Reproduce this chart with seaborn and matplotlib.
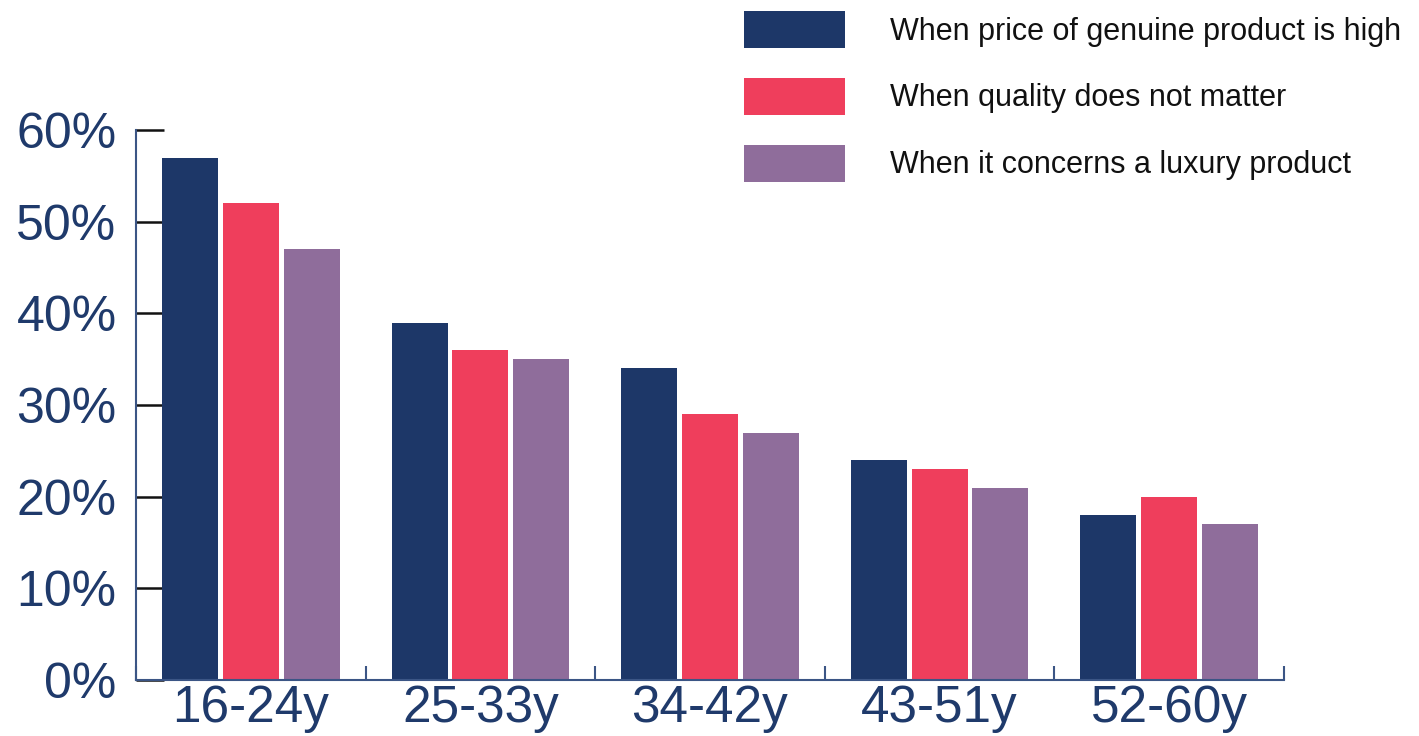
import matplotlib
matplotlib.use("Agg")
import matplotlib.pyplot as plt
import seaborn as sns
import pandas as pd
from matplotlib.patches import Patch
from matplotlib.ticker import FixedLocator

categories = ["16-24y", "25-33y", "34-42y", "43-51y", "52-60y"]
series_names = [
    "When price of genuine product is high",
    "When quality does not matter",
    "When it concerns a luxury product",
]
price_high = [57, 39, 34, 24, 18]
quality_irrelevant = [52, 36, 29, 23, 20]
luxury_product = [47, 35, 27, 21, 17]
y_ticks = [0, 10, 20, 30, 40, 50, 60]
y_tick_labels = ["0%", "10%", "20%", "30%", "40%", "50%", "60%"]

colors = ["#1D3768", "#EF3E5C", "#8F6D9B"]
navy = "#1F3A6B"

rows = []
for name, vals in zip(series_names, [price_high, quality_irrelevant, luxury_product]):
    for c, v in zip(categories, vals):
        rows.append({"Age": c, "Series": name, "Value": v})
df = pd.DataFrame(rows)

sns.set_style("white")
plt.rcParams["font.family"] = ["Liberation Sans", "DejaVu Sans"]

fig = plt.figure(figsize=(14.19, 7.36), dpi=100)
ax = fig.add_axes([136 / 1419, 1 - 680 / 736, (1284 - 136) / 1419, (680 - 130) / 736])

sns.barplot(data=df, x="Age", y="Value", hue="Series", order=categories,
            hue_order=series_names, palette=colors, width=0.795, gap=0.08,
            saturation=1, ax=ax, legend=False, linewidth=0, edgecolor="none")

ax.set_xlim(-0.5, len(categories) - 0.5)
ax.set_ylim(0, 60)
ax.set_xlabel("")
ax.set_ylabel("")

for s in ["top", "right"]:
    ax.spines[s].set_visible(False)
for s in ["left", "bottom"]:
    ax.spines[s].set_color("#3B5585")
    ax.spines[s].set_linewidth(1.5)

ax.set_yticks(y_ticks)
ax.set_yticklabels(y_tick_labels)
ax.tick_params(axis="y", direction="in", length=20, width=1.8, color="#111111",
               labelsize=36, labelcolor=navy, pad=14, left=True)

ax.set_xticks(range(len(categories)))
ax.set_xticklabels(categories)
ax.tick_params(axis="x", which="major", length=0, labelsize=37, labelcolor=navy, pad=3)
ax.xaxis.set_minor_locator(FixedLocator([i - 0.5 for i in range(len(categories) + 1)]))
ax.tick_params(axis="x", which="minor", direction="in", length=10, width=1.5,
               color="#3B5585", bottom=True)

handles = [Patch(facecolor=c, edgecolor="none") for c in colors]
fig.legend(handles, series_names, loc="upper left",
           bbox_to_anchor=(744 / 1419, 1 - 11 / 736), frameon=False,
           fontsize=22, handlelength=3.3, handleheight=1.48,
           handletextpad=1.47, labelspacing=0.98, borderpad=0, borderaxespad=0,
           labelcolor="#111111")

fig.savefig("out.png", dpi=100)
